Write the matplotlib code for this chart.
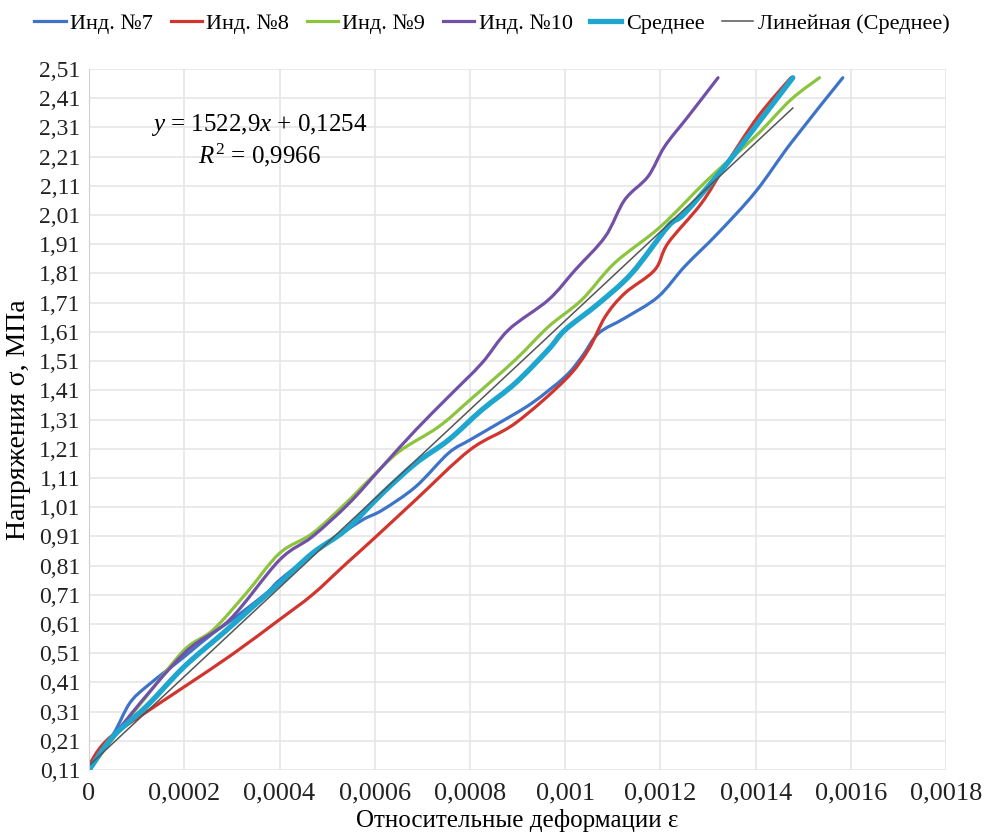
import matplotlib.pyplot as plt
from matplotlib.ticker import FixedLocator
from matplotlib.path import Path
from matplotlib.patches import PathPatch
from matplotlib.lines import Line2D

# Инд. №7
x7 = [0, 0.00005, 0.000085, 0.00012, 0.000169, 0.0002, 0.00026, 0.000309, 0.000372, 0.0004,
      0.000462, 0.000511, 0.000574, 0.000616, 0.000686, 0.000755, 0.0008, 0.00086, 0.00093,
      0.001, 0.001035, 0.00107, 0.001125, 0.001195, 0.001251, 0.001321, 0.0014, 0.001474, 0.001583]
y7 = [0.116, 0.23, 0.338, 0.395, 0.458, 0.498, 0.578, 0.635, 0.715, 0.76,
      0.84, 0.898, 0.966, 1.0, 1.08, 1.195, 1.24, 1.297, 1.366,
      1.457, 1.525, 1.605, 1.657, 1.73, 1.834, 1.948, 2.09, 2.256, 2.48]

# Инд. №8
x8 = [0, 0.000022, 0.00005, 0.000106, 0.0002, 0.0003, 0.0004, 0.000469, 0.000539, 0.0006,
      0.000686, 0.0008, 0.000895, 0.001, 0.001049, 0.001084, 0.001125, 0.001188, 0.001216,
      0.001286, 0.001335, 0.001405, 0.001474]
y8 = [0.127, 0.184, 0.23, 0.293, 0.395, 0.505, 0.625, 0.71, 0.815, 0.905,
      1.035, 1.206, 1.297, 1.446, 1.55, 1.662, 1.742, 1.822, 1.914,
      2.05, 2.176, 2.347, 2.48]

# Инд. №9
x9 = [0, 0.000064, 0.00012, 0.0002, 0.00026, 0.00033, 0.0004, 0.000469, 0.000539, 0.000588,
      0.000651, 0.000734, 0.0008, 0.000895, 0.000965, 0.001035, 0.001104, 0.0012,
      0.0013, 0.0014, 0.001474, 0.001534]
y9 = [0.11, 0.247, 0.361, 0.521, 0.589, 0.715, 0.852, 0.92, 1.023, 1.103,
      1.2, 1.285, 1.377, 1.514, 1.628, 1.72, 1.846, 1.97,
      2.132, 2.28, 2.405, 2.48]

# Инд. №10
x10 = [0, 0.000078, 0.0002, 0.000295, 0.0004, 0.000469, 0.000546, 0.000616, 0.000686,
       0.000755, 0.000825, 0.000881, 0.000965, 0.001021, 0.001084, 0.001125, 0.001174,
       0.001209, 0.001258, 0.001321]
y10 = [0.11, 0.281, 0.51, 0.624, 0.829, 0.909, 1.023, 1.149, 1.274,
       1.388, 1.503, 1.617, 1.72, 1.822, 1.936, 2.062, 2.142,
       2.245, 2.347, 2.48]

# Среднее
xm = [0, 0.00005, 0.00012, 0.0002, 0.000281, 0.000344, 0.0004, 0.000469, 0.000539, 0.000616,
      0.000686, 0.000755, 0.000825, 0.000895, 0.000965, 0.001, 0.00107, 0.00114, 0.001216,
      0.001251, 0.001335, 0.001405, 0.001478]
ym = [0.11, 0.224, 0.327, 0.464, 0.578, 0.669, 0.749, 0.852, 0.932, 1.057,
      1.16, 1.24, 1.343, 1.434, 1.55, 1.617, 1.707, 1.811, 1.971,
      2.016, 2.176, 2.324, 2.48]

# Линейная (Среднее): y = 1522,9x + 0,1254
slope = 1522.9
intercept = 0.1254
r2 = 0.9966

x_ticks = [0, 0.0002, 0.0004, 0.0006, 0.0008, 0.001, 0.0012, 0.0014, 0.0016, 0.0018]
x_labels = ['0', '0,0002', '0,0004', '0,0006', '0,0008', '0,001', '0,0012', '0,0014', '0,0016', '0,0018']
y_ticks = [0.11 + 0.1 * i for i in range(25)]
y_labels = [('%.2f' % v).replace('.', ',') for v in y_ticks]

FONT = 'Liberation Serif'
plt.rcParams['font.family'] = FONT
plt.rcParams['mathtext.fontset'] = 'custom'
plt.rcParams['mathtext.rm'] = FONT
plt.rcParams['mathtext.it'] = FONT + ':italic'


def smooth_path(xs, ys):
    # сглаженная линия как в Excel (Catmull-Rom -> кривые Безье)
    pts = list(zip(xs, ys))
    n = len(pts)
    verts = [pts[0]]
    codes = [Path.MOVETO]
    for i in range(n - 1):
        p0 = pts[i - 1] if i > 0 else pts[i]
        p1 = pts[i]
        p2 = pts[i + 1]
        p3 = pts[i + 2] if i + 2 < n else pts[i + 1]
        c1 = (p1[0] + (p2[0] - p0[0]) / 6, p1[1] + (p2[1] - p0[1]) / 6)
        c2 = (p2[0] - (p3[0] - p1[0]) / 6, p2[1] - (p3[1] - p1[1]) / 6)
        verts += [c1, c2, p2]
        codes += [Path.CURVE4] * 3
    return Path(verts, codes)


fig = plt.figure(figsize=(9.84, 8.34), dpi=100)
ax = fig.add_axes([0.0905, 0.0767, 0.871, 0.8406])

series = [
    (x7, y7, '#3E74C8', 2.3, 'Инд. №7'),
    (x8, y8, '#D0352E', 2.3, 'Инд. №8'),
    (x9, y9, '#8DC43F', 2.3, 'Инд. №9'),
    (x10, y10, '#7250A6', 2.3, 'Инд. №10'),
    (xm, ym, '#1FA6CE', 3.8, 'Среднее'),
]
handles = []
for xs, ys, c, w, lab in series:
    ax.add_patch(PathPatch(smooth_path(xs, ys), fill=False, edgecolor=c, lw=w,
                           capstyle='round', joinstyle='round'))
    handles.append(Line2D([], [], color=c, lw=w, label=lab))

xt = [0, max(xm)]
yt = [intercept + slope * v for v in xt]
tl, = ax.plot(xt, yt, color='#555555', lw=1.1, label='Линейная (Среднее)')
handles.append(tl)

ax.set_xlim(0, 0.0018)
ax.set_ylim(0.11, 2.51)
ax.xaxis.set_major_locator(FixedLocator(x_ticks))
ax.set_xticklabels(x_labels, fontfamily=FONT, fontsize=19)
ax.yaxis.set_major_locator(FixedLocator(y_ticks))
ax.set_yticklabels(y_labels, fontfamily=FONT, fontsize=17)
ax.tick_params(axis='both', length=0, colors='#222222')
ax.tick_params(axis='x', pad=9)
ax.tick_params(axis='y', pad=6)
ax.grid(True, color='#E6E6E6', lw=1.2)
ax.set_axisbelow(True)
for s in ax.spines.values():
    s.set_visible(False)
ax.spines['left'].set_visible(True)
ax.spines['left'].set_color('#D0D0D0')

ax.set_xlabel('Относительные деформации ε', fontsize=18, fontfamily=FONT, labelpad=3)
ax.set_ylabel('Напряжения σ, МПа', fontsize=20, fontfamily=FONT, labelpad=6)

ax.text(0.000357, 2.319, '$y$ = 1522,9$x$ + 0,1254', fontsize=18, fontfamily=FONT,
        ha='center', va='center')
ax.text(0.000357, 2.216, '$R^2$ = 0,9966', fontsize=18, fontfamily=FONT,
        ha='center', va='center')

fig.legend(handles=handles, loc='upper center', bbox_to_anchor=(0.5, 1.008), ncol=6, frameon=False,
           prop={'family': FONT, 'size': 16}, handlelength=1.4, handletextpad=0.2,
           columnspacing=0.8)

fig.savefig('out.png', dpi=100)
